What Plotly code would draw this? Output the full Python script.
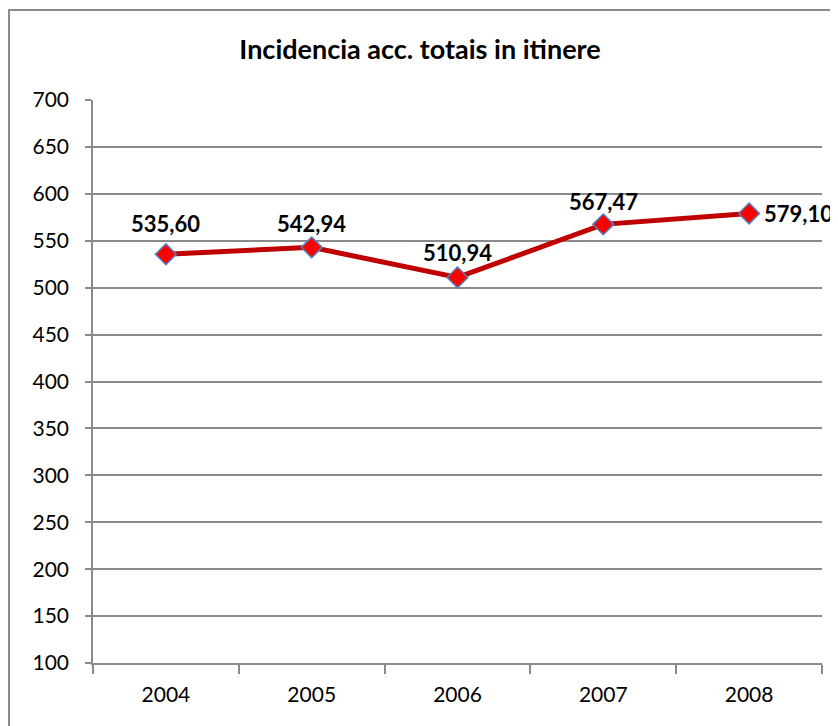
import plotly.graph_objects as go

years = ["2004", "2005", "2006", "2007", "2008"]
incidencia = [535.60, 542.94, 510.94, 567.47, 579.10]

labels = [f"{v:.2f}".replace(".", ",") for v in incidencia]

# label placement (pixels): above the point, last one to the right
label_dx = [0, 0, 0, 0, 13]
label_dy = [31, 24, 25, 23, 0]
label_anchor = ["center", "center", "center", "center", "left"]

FONT = "Lato, 'Open Sans', sans-serif"
GRID = "#8a8a8a"

# page body adds an 8px offset, so the figure is 8px smaller than the window
W, H = 830, 718
L, T, R, B = 85, 92, 16, 63
PW, PH = W - L - R, H - T - B

fig = go.Figure()
fig.add_trace(go.Scatter(
    x=years, y=incidencia,
    mode="lines+markers",
    line=dict(color="#c00000", width=5),
    marker=dict(symbol="diamond", size=16, color="#ff0000",
                line=dict(color="#4f81bd", width=1.5)),
    cliponaxis=False,
    showlegend=False,
))

for i, (y, t) in enumerate(zip(incidencia, labels)):
    fig.add_annotation(x=i, y=y, xref="x", yref="y", text=f"<b>{t}</b>",
                       showarrow=False, xanchor=label_anchor[i], yanchor="middle",
                       xshift=label_dx[i], yshift=label_dy[i],
                       font=dict(family=FONT, size=22, color="#000000"))

fig.update_layout(
    width=W, height=H,
    paper_bgcolor="white", plot_bgcolor="white",
    margin=dict(l=L, t=T, r=R, b=B),
    font=dict(family=FONT, size=21, color="#000000"),
    title=dict(text="<b>Incidencia acc. totais in itinere</b>",
               x=412 / W, xanchor="center", y=1 - 42 / H, yanchor="middle",
               font=dict(family=FONT, size=27, color="#000000")),
    xaxis=dict(type="category", tickson="boundaries", ticks="outside",
               ticklen=9, tickcolor=GRID, tickwidth=1.5, ticklabelstandoff=12,
               showline=True, linecolor=GRID, linewidth=1.5,
               showgrid=False, range=[-0.5, 4.5], fixedrange=True),
    yaxis=dict(range=[100, 700], dtick=50, ticks="outside", ticklen=6,
               tickcolor=GRID, tickwidth=1.5, ticklabelstandoff=12,
               showline=True, linecolor=GRID, linewidth=1.5,
               showgrid=True, gridcolor=GRID, gridwidth=1.5,
               zeroline=False, fixedrange=True),
)

# outer chart border
fig.add_shape(type="rect", xref="paper", yref="paper",
              x0=(1 - L) / PW, x1=(W - 2 - L) / PW,
              y0=-80 / PH, y1=(PH + T - 2) / PH,
              line=dict(color=GRID, width=2), fillcolor="rgba(0,0,0,0)",
              layer="below")

fig.write_html("out.html")
